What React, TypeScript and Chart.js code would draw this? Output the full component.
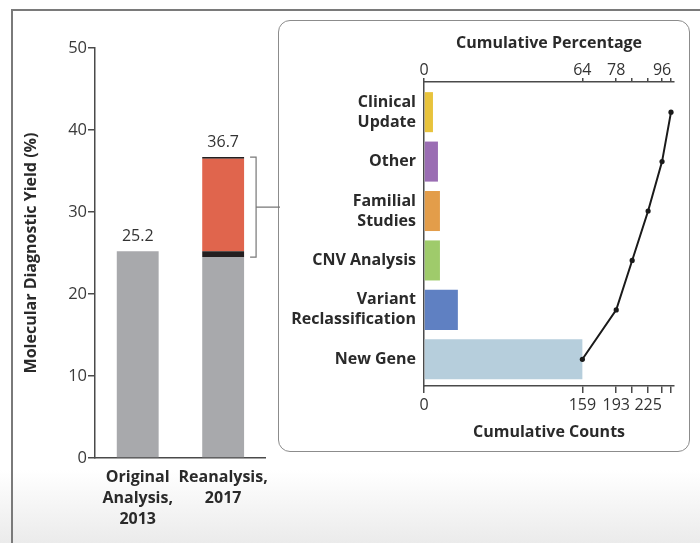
import React, { useEffect, useRef } from 'react';
import { Chart, registerables } from 'chart.js';

Chart.register(...registerables);

const FONT = '"Open Sans", Lato, sans-serif';

// ---- Left chart: molecular diagnostic yield (%) ----
const yieldCategories: (string | string[])[] = [['Original', 'Analysis,', '2013'], ['Reanalysis,', '2017']];
const baseYield = [25.2, 24.5];
const lowerBandYield = [null, 0.7];
const reanalysisGain = [null, 11.3];
const upperBandYield = [null, 0.2];
const yieldAxisTitle = 'Molecular Diagnostic Yield (%)';

// ---- Right chart: sources of new diagnoses ----
const sourceCategories: (string | string[])[] = [
  ['Clinical', 'Update'],
  'Other',
  ['Familial', 'Studies'],
  'CNV Analysis',
  ['Variant', 'Reclassification'],
  'New Gene',
];
const sourceCounts = [9, 14, 16, 16, 34, 159];
const sourceColors = ['#e8c33c', '#9a6db3', '#e39d4a', '#9fcb6b', '#5f80c2', '#b6cedc'];
const cumulativeCounts = [248, 239, 225, 209, 193, 159];
const countTickValues = [0, 159, 193, 209, 225, 239, 248];
const countTickLabels = ['0', '159', '193', '', '225', '', ''];
const percentTickLabels = ['0', '64', '78', '', '', '96', ''];

const AXIS = '#4a4a4a';
const TEXT = '#2a2a2a';

const yieldLabelPlugin = {
  id: 'yieldLabels',
  afterDatasetsDraw(chart: any) {
    const ctx = chart.ctx;
    const y = chart.scales.y;
    const meta0 = chart.getDatasetMeta(0);
    const series = [baseYield, lowerBandYield, reanalysisGain, upperBandYield];
    const totals = yieldCategories.map((_, i) =>
      series.reduce((s: number, a: any[]) => s + (a[i] || 0), 0)
    );
    ctx.save();
    ctx.font = `16px ${FONT}`;
    ctx.fillStyle = '#333';
    ctx.textAlign = 'center';
    ctx.textBaseline = 'middle';
    totals.forEach((t, i) => {
      const el = meta0.data[i];
      ctx.fillText(t.toFixed(1), el.x, y.getPixelForValue(t) - 15);
    });
    // bracket around the reanalysis gain
    const bar = meta0.data[1];
    const right = bar.x + bar.width / 2;
    const top = y.getPixelForValue(totals[1]);
    const bottom = y.getPixelForValue(baseYield[1]);
    const bx = right + 12;
    ctx.strokeStyle = '#777';
    ctx.lineWidth = 1.2;
    ctx.beginPath();
    ctx.moveTo(right + 6, top);
    ctx.lineTo(bx, top);
    ctx.lineTo(bx, bottom);
    ctx.lineTo(right + 6, bottom);
    ctx.moveTo(bx, (top + bottom) / 2);
    ctx.lineTo(chart.width, (top + bottom) / 2);
    ctx.stroke();
    ctx.restore();
  },
};

function LeftChart() {
  const ref = useRef<HTMLCanvasElement>(null);
  useEffect(() => {
    const chart = new Chart(ref.current as HTMLCanvasElement, {
      type: 'bar',
      data: {
        labels: yieldCategories as any,
        datasets: [
          { data: baseYield, backgroundColor: '#a8a9ac', stack: 's' },
          { data: lowerBandYield as any, backgroundColor: '#231f20', stack: 's' },
          { data: reanalysisGain as any, backgroundColor: '#e0654d', stack: 's' },
          { data: upperBandYield as any, backgroundColor: '#231f20', stack: 's' },
        ],
      },
      options: {
        responsive: false,
        animation: false,
        layout: { padding: { top: 48, right: 13, left: 0, bottom: 0 } },
        datasets: { bar: { barPercentage: 0.49, categoryPercentage: 1 } },
        plugins: { legend: { display: false }, tooltip: { enabled: false } },
        scales: {
          x: {
            stacked: true,
            grid: { display: false, drawTicks: false },
            border: { color: AXIS, width: 1.5 },
            ticks: {
              font: { family: FONT, size: 16, weight: 'bold', lineHeight: 1.3 },
              color: TEXT,
              padding: 9,
              maxRotation: 0,
              autoSkip: false,
            },
            afterFit: (s: any) => {
              s.height = 82;
            },
          },
          y: {
            stacked: true,
            min: 0,
            max: 50,
            ticks: { stepSize: 10, font: { family: FONT, size: 16.5, lineHeight: 1 }, color: '#3a3a3a', padding: 1 },
            grid: { drawOnChartArea: false, tickLength: 7, color: AXIS, lineWidth: 1.5 },
            border: { color: AXIS, width: 1.5 },
            title: {
              display: true,
              text: yieldAxisTitle,
              font: { family: FONT, size: 16, weight: 'bold' },
              color: TEXT,
              padding: { top: 22, bottom: 0 },
            },
            afterFit: (s: any) => {
              s.width = 95;
            },
          },
        },
      } as any,
      plugins: [yieldLabelPlugin],
    });
    return () => chart.destroy();
  }, []);
  return (
    <canvas
      ref={ref}
      width={280}
      height={540}
      style={{ position: 'absolute', left: 0, top: 0, width: 280, height: 540 }}
    />
  );
}

function RightChart() {
  const ref = useRef<HTMLCanvasElement>(null);
  useEffect(() => {
    const chart = new Chart(ref.current as HTMLCanvasElement, {
      type: 'bar',
      data: {
        datasets: [
          {
            type: 'line',
            indexAxis: 'y',
            data: cumulativeCounts.map((c, i) => ({ x: c, y: i })),
            borderColor: '#1a1a1a',
            borderWidth: 2,
            pointRadius: 2.6,
            pointBackgroundColor: '#1a1a1a',
            pointBorderWidth: 0,
            xAxisID: 'x',
            yAxisID: 'y',
            order: 0,
          },
          {
            type: 'bar',
            data: sourceCounts.map((c, i) => ({ x: c, y: i })),
            backgroundColor: sourceColors,
            barPercentage: 0.81,
            categoryPercentage: 1,
            xAxisID: 'x',
            yAxisID: 'y',
            order: 1,
          },
        ] as any,
      },
      options: {
        indexAxis: 'y',
        responsive: false,
        animation: false,
        layout: { padding: { top: 0, right: 14, left: 0, bottom: 0 } },
        plugins: { legend: { display: false }, tooltip: { enabled: false } },
        scales: {
          y: {
            type: 'linear',
            reverse: true,
            offset: false,
            min: -0.61,
            max: 5.54,
            afterBuildTicks: (s: any) => {
              s.ticks = sourceCategories.map((_, i) => ({ value: i }));
            },
            ticks: {
              callback: (v: any) => sourceCategories[Math.round(v)],
              font: { family: FONT, size: 16, weight: 'bold', lineHeight: 1.25 },
              color: TEXT,
              padding: 8,
              autoSkip: false,
            },
            grid: { display: false, drawTicks: false, offset: false },
            border: { color: AXIS, width: 1.5 },
            afterFit: (s: any) => {
              s.width = 144;
            },
          },
          x: {
            type: 'linear',
            position: 'bottom',
            offset: false,
            min: 0,
            max: 251,
            afterBuildTicks: (s: any) => {
              s.ticks = countTickValues.map((v) => ({ value: v }));
            },
            ticks: {
              callback: (_v: any, idx: number) => countTickLabels[idx],
              font: { family: FONT, size: 16, lineHeight: 1 },
              color: '#333',
              padding: 4,
              autoSkip: false,
              maxRotation: 0,
            },
            grid: { drawOnChartArea: false, tickLength: 7, color: AXIS, lineWidth: 1.5 },
            border: { color: AXIS, width: 1.5 },
            title: {
              display: true,
              text: 'Cumulative Counts',
              font: { family: FONT, size: 16, weight: 'bold', lineHeight: 1.2 },
              color: TEXT,
              padding: { top: 0, bottom: 8 },
            },
            afterFit: (s: any) => {
              s.height = 64;
            },
          },
          x2: {
            type: 'linear',
            position: 'top',
            offset: false,
            min: 0,
            max: 251,
            afterBuildTicks: (s: any) => {
              s.ticks = countTickValues.map((v) => ({ value: v }));
            },
            ticks: {
              callback: (_v: any, idx: number) => percentTickLabels[idx],
              font: { family: FONT, size: 16, lineHeight: 1 },
              color: '#333',
              padding: 0,
              autoSkip: false,
              maxRotation: 0,
            },
            grid: { drawOnChartArea: false, tickLength: 4, color: AXIS, lineWidth: 1.5 },
            border: { color: AXIS, width: 1.5 },
            title: {
              display: true,
              text: 'Cumulative Percentage',
              font: { family: FONT, size: 16, weight: 'bold', lineHeight: 1.2 },
              color: TEXT,
              padding: { top: 12, bottom: 0 },
            },
            afterFit: (s: any) => {
              s.height = 60;
            },
          },
        },
      } as any,
    });
    return () => chart.destroy();
  }, []);
  return (
    <canvas
      ref={ref}
      width={408}
      height={428}
      style={{ position: 'absolute', left: 280, top: 22, width: 408, height: 428 }}
    />
  );
}

export default function App() {
  return (
    <div
      style={{
        position: 'absolute',
        left: 0,
        top: 0,
        width: 700,
        height: 543,
        overflow: 'hidden',
        background: '#fff',
        fontFamily: FONT,
      }}
    >
      <div
        style={{
          position: 'absolute',
          left: 0,
          top: 470,
          width: 700,
          height: 73,
          background: 'linear-gradient(#ffffff, #ebebeb)',
        }}
      />
      <div
        style={{
          position: 'absolute',
          left: 11,
          top: 9,
          width: 720,
          height: 560,
          borderLeft: '2px solid #7a7a7a',
          borderTop: '2px solid #7a7a7a',
        }}
      />
      <div
        style={{
          position: 'absolute',
          left: 278,
          top: 20,
          width: 412,
          height: 432,
          boxSizing: 'border-box',
          border: '1.5px solid #8c8c8c',
          borderRadius: 12,
          background: '#fff',
        }}
      />
      <LeftChart />
      <RightChart />
    </div>
  );
}
